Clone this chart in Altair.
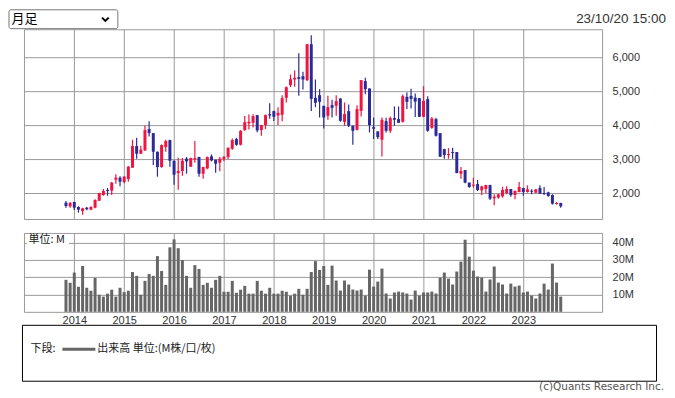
import altair as alt
import pandas as pd

start_month = "2013-11"

opens = [1724, 1617, 1744, 1597, 1479, 1577, 1519, 1577, 1783, 1950,
         2097, 2077, 2401, 2460, 2332, 2420, 2754, 3391, 3166, 3264,
         3891, 3774, 3224, 2773, 3362, 3568, 2960, 2597, 2656, 3019,
         2783, 2999, 3068, 2577, 2734, 3087, 2989, 2901, 3009, 3068,
         3313, 3597, 3430, 3862, 4058, 4078, 4303, 3862, 4009, 4332,
         4421, 4293, 4313, 4813, 5185, 5352, 5421, 5450, 5332, 6391,
         4813, 4891, 4577, 4283, 4597, 4577, 4793, 4107, 4421, 3989,
         3871, 4430, 5303, 5087, 3950, 3822, 3577, 4126, 3842, 4215,
         4185, 4107, 4842, 4870, 4820, 4803, 4254, 4773, 3930, 4185,
         3773, 3303, 3126, 3215, 3215, 2577, 2685, 2313, 2224, 2273,
         2087, 2126, 2244, 1852, 1872, 1911, 2009, 2126, 1950, 2038,
         2156, 2038, 2077, 2018, 2156, 2009, 2028, 1950, 1685, 1715]
highs = [1774, 1744, 1750, 1617, 1577, 1597, 1617, 1822, 2020, 2126,
         2156, 2332, 2558, 2499, 2509, 2803, 3578, 3636, 3401, 3999,
         4126, 3780, 3230, 3440, 3578, 3575, 2965, 3048, 3038, 3068,
         3045, 3538, 3075, 2780, 3087, 3146, 2990, 3068, 3100, 3350,
         3617, 3636, 3860, 4274, 4322, 4330, 4310, 4020, 4322, 4656,
         4430, 4538, 4891, 5146, 5499, 5617, 6126, 5577, 6400, 6656,
         5352, 5068, 4580, 4872, 4754, 4891, 4800, 4675, 4617, 3995,
         4597, 5335, 5401, 5090, 4234, 3830, 4234, 4224, 4264, 4558,
         4558, 4911, 4970, 5080, 4940, 4810, 5156, 4862, 4244, 4224,
         3780, 3310, 3332, 3342, 3220, 2773, 2690, 2320, 2460, 2391,
         2224, 2250, 2250, 1970, 1989, 2195, 2205, 2130, 2087, 2332,
         2160, 2234, 2117, 2125, 2234, 2185, 2048, 1970, 1744, 1720]
lows = [1577, 1577, 1509, 1430, 1372, 1499, 1499, 1558, 1775, 1930,
        1930, 1950, 2283, 2205, 2293, 2342, 2754, 3019, 3160, 3244,
        3675, 2832, 2489, 2754, 3224, 2783, 2254, 2107, 2518, 2577,
        2773, 2901, 2489, 2430, 2705, 2940, 2607, 2646, 2950, 3009,
        3283, 3401, 3410, 3842, 3881, 3940, 3800, 3695, 3891, 4195,
        4130, 4009, 4126, 4675, 5130, 5136, 4872, 5058, 5310, 4421,
        4538, 4234, 3911, 4166, 4234, 4283, 4107, 3989, 3950, 3430,
        3852, 4264, 4921, 3793, 3597, 3597, 3087, 3793, 3773, 3989,
        4070, 4087, 4480, 4500, 4250, 4244, 4240, 3813, 3901, 3675,
        3070, 3019, 3019, 3019, 2590, 2430, 2293, 2166, 2166, 2068,
        1940, 1999, 1803, 1646, 1842, 1872, 1970, 1901, 1822, 2030,
        1930, 2020, 1970, 2000, 1985, 1950, 1901, 1666, 1666, 1577]
closes = [1626, 1714, 1577, 1519, 1558, 1528, 1597, 1803, 2009, 2068,
          2068, 2313, 2460, 2342, 2489, 2783, 3391, 3166, 3283, 3862,
          3774, 3224, 2773, 3421, 3538, 2960, 2548, 2656, 2960, 2940,
          3038, 3038, 2577, 2773, 3068, 2969, 2871, 3019, 3068, 3342,
          3568, 3430, 3842, 4097, 4107, 4274, 3852, 4009, 4303, 4293,
          4254, 4372, 4803, 5126, 5362, 5401, 5372, 5352, 6391, 4783,
          4666, 4695, 4234, 4538, 4519, 4715, 4136, 4332, 3989, 3842,
          4479, 5332, 5068, 4009, 3901, 3656, 4166, 3842, 4215, 4166,
          4077, 4862, 4695, 4780, 4700, 4254, 4724, 3842, 4205, 3695,
          3077, 3126, 3156, 3185, 2597, 2656, 2313, 2185, 2254, 2097,
          2205, 2244, 1842, 1901, 1969, 2097, 2126, 1950, 2068, 2185,
          2038, 2117, 2048, 2117, 1989, 1979, 1921, 1695, 1715, 1617]
volumes = [18.5, 16.8, 22.7, 14.5, 26.5, 13.9, 12.2, 19.6, 9.9, 8.8,
           10.5, 12.8, 8.8, 13.9, 11.4, 12.2, 23.0, 20.8, 9.9, 17.9,
           21.9, 20.8, 32.2, 23.6, 15.6, 37.3, 41.9, 36.8, 29.9, 20.8,
           13.9, 27.0, 24.8, 15.6, 16.8, 13.9, 18.5, 20.8, 11.6, 11.6,
           17.9, 11.0, 12.8, 15.0, 10.5, 10.5, 17.9, 12.2, 10.5, 13.9,
           10.5, 10.5, 12.2, 11.6, 9.3, 10.5, 13.3, 9.9, 13.3, 23.0,
           29.3, 24.2, 26.5, 15.6, 26.7, 18.1, 12.3, 18.1, 15.8, 12.9,
           12.3, 12.9, 9.4, 24.4, 14.6, 17.5, 25.0, 10.6, 7.7, 11.2,
           11.7, 11.2, 10.6, 7.1, 12.3, 9.4, 11.2, 11.2, 11.7, 10.6,
           19.8, 22.7, 19.2, 15.8, 23.3, 29.0, 41.7, 31.9, 23.8, 20.4,
           19.8, 11.7, 18.7, 26.2, 16.9, 15.8, 10.6, 16.3, 14.6, 15.2,
           11.2, 11.7, 9.4, 7.7, 10.6, 16.3, 12.9, 27.9, 16.9, 8.8]

year_labels = [2014, 2015, 2016, 2017, 2018, 2019, 2020, 2021, 2022, 2023]
price_ticks = [2000, 3000, 4000, 5000, 6000]
volume_ticks = [10, 20, 30, 40]

RED = "#f0143f"
BLUE = "#2a2a98"
GRID = "#9a9a9a"
LABEL_FONT = "Liberation Sans"
JP_FONT = "Noto Sans CJK JP"

months = [str(p) for p in pd.period_range(start_month, periods=len(opens), freq="M")]
df = pd.DataFrame({
    "idx": list(range(len(opens))),
    "month": months,
    "open": opens, "high": highs, "low": lows, "close": closes,
    "volume": volumes,
})
df["dir"] = ["up" if c >= o else "down" for o, c in zip(opens, closes)]
year_idx = [months.index(f"{y}-01") for y in year_labels]

W = 579
xscale = alt.Scale(domain=[-8.9, 127.75], nice=False, zero=False)
color = alt.Color("dir:N", scale=alt.Scale(domain=["up", "down"], range=[RED, BLUE]), legend=None)

main_x_axis = alt.Axis(values=year_idx, labels=False, ticks=False, domain=False,
                       grid=True, title=None)
y_price_scale = alt.Scale(domain=[1244, 6832], nice=False, zero=False)
price_axis = alt.Axis(orient="right", values=price_ticks,
                      labelExpr="format(datum.value, ',')", ticks=False, tickSize=0,
                      domain=False, grid=True, labelPadding=10, title=None)

base = alt.Chart(df)
wicks = base.mark_rule(strokeWidth=1.2).encode(
    x=alt.X("idx:Q", scale=xscale, axis=main_x_axis),
    y=alt.Y("low:Q", scale=y_price_scale, axis=price_axis),
    y2="high:Q",
    color=color,
)
bodies = base.mark_bar(size=3).encode(
    x=alt.X("idx:Q", scale=xscale, axis=main_x_axis),
    y=alt.Y("open:Q", scale=y_price_scale, axis=price_axis),
    y2="close:Q",
    color=color,
)

one = alt.Data(values=[{"k": 1}])
dd_box = alt.Chart(one).mark_rect(fill="white", stroke="#767676", strokeWidth=1, cornerRadius=2).encode(
    x=alt.value(-15), x2=alt.value(94), y=alt.value(-19.5), y2=alt.value(-0.6))
dd_text = alt.Chart(one).mark_text(text="月足", align="left", baseline="middle", font=JP_FONT,
                                   fontSize=13, color="#000").encode(x=alt.value(-12.5), y=alt.value(-10))
dd_chev = alt.Chart(one).mark_point(shape="M-1,-0.5L0,0.5L1,-0.5", filled=False, stroke="#000",
                                    strokeWidth=2, size=45, opacity=1).encode(
    x=alt.value(81.5), y=alt.value(-10))
stamp = alt.Chart(one).mark_text(text="23/10/20 15:00", align="right", baseline="middle", font=LABEL_FONT,
                                 fontSize=13.5, color="#333").encode(x=alt.value(643), y=alt.value(-10.5))

main = alt.layer(wicks, bodies, dd_box, dd_text, dd_chev, stamp).properties(width=W, height=190)

vol_bars = base.mark_bar(size=3, color="#666666").encode(
    x=alt.X("idx:Q", scale=xscale,
            axis=alt.Axis(values=year_idx, labelExpr="toString(2014 + (datum.value - 2) / 12)",
                          ticks=False, tickSize=0, domain=False, grid=True, labelPadding=3, title=None)),
    y=alt.Y("volume:Q", scale=alt.Scale(domain=[0, 45.6], nice=False),
            axis=alt.Axis(orient="right", values=volume_ticks, labelExpr="datum.value + 'M'",
                          ticks=False, tickSize=0, domain=False, grid=True, labelPadding=10, title=None)),
)
unit_bg = alt.Chart(one).mark_rect(fill="white").encode(
    x=alt.value(3), x2=alt.value(45), y=alt.value(1), y2=alt.value(14))
unit_text = alt.Chart(one).mark_text(text="単位: M", align="left", baseline="middle", font=JP_FONT,
                                     fontSize=11, color="#222").encode(x=alt.value(4.5), y=alt.value(7.5))
leg_box = alt.Chart(one).mark_rect(fillOpacity=0, stroke="#000", strokeWidth=1).encode(
    x=alt.value(-1.5), x2=alt.value(633.5), y=alt.value(92.5), y2=alt.value(148.5))
leg_lab = alt.Chart(one).mark_text(text="下段:", align="left", baseline="middle", font=JP_FONT,
                                   fontSize=11, color="#222").encode(x=alt.value(6.5), y=alt.value(116.5))
leg_line = alt.Chart(one).mark_rule(color="#666666", strokeWidth=3).encode(
    x=alt.value(38.5), x2=alt.value(71.5), y=alt.value(116.5))
leg_txt = alt.Chart(one).mark_text(text="出来高 単位:(M株/口/枚)", align="left", baseline="middle",
                                   font=JP_FONT, fontSize=11, color="#222").encode(
    x=alt.value(73.5), y=alt.value(116.5))
copyright = alt.Chart(one).mark_text(text="(c)Quants Research Inc.", align="right", baseline="middle",
                                     font="DejaVu Sans", fontSize=10.5, color="#555").encode(
    x=alt.value(641), y=alt.value(154.5))

vol = alt.layer(vol_bars, unit_bg, unit_text, leg_box, leg_lab, leg_line, leg_txt, copyright).properties(
    width=W, height=79)

chart = alt.vconcat(main, vol, spacing=12).properties(
    padding=0, background="white"
).configure_view(stroke=GRID, strokeWidth=1).configure_axis(
    gridColor=GRID, gridWidth=1, gridOpacity=1, labelFont=LABEL_FONT, labelFontSize=11, labelColor="#333"
)

chart.save("out.html", embed_options={"renderer": "svg", "actions": False})
